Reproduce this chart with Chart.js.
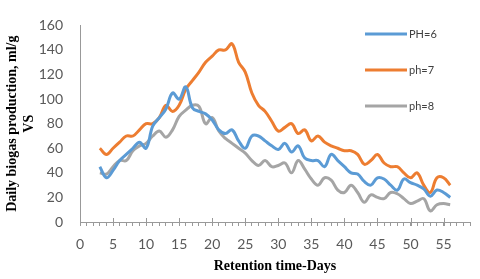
<!DOCTYPE html>
<html>
<head>
<meta charset="utf-8">
<script src="https://cdn.jsdelivr.net/npm/chart.js@4"></script>
<style>
  body { margin: 0; background: #fff; }
</style>
</head>
<body>
<canvas id="biogasChart" width="480" height="279"></canvas>
<script>
// retention days and daily biogas production (ml/g VS)
var days = [3, 4, 5, 6, 7, 8, 9, 10, 11, 12, 13, 14, 15, 16, 17, 18, 19, 20, 21, 22, 23, 24, 25, 26, 27, 28, 29,
            30, 31, 32, 33, 34, 35, 36, 37, 38, 39, 40, 41, 42, 43, 44, 45, 46, 47, 48, 49, 50, 51, 52, 53, 54, 55, 56];

var ph6 = [45, 36, 42, 50, 55, 60, 65, 60, 78, 85, 92, 105, 100, 110, 93, 90, 88, 83, 75, 72, 75, 66, 60, 70, 70, 66, 62,
           59, 64, 57, 62, 52, 50, 50, 45, 55, 50, 45, 40, 39, 33, 30, 36, 35, 30, 26, 35, 32, 30, 27, 21, 26, 24, 20];

var ph7 = [60, 55, 60, 65, 70, 70, 75, 80, 80, 85, 95, 90, 95, 108, 115, 122, 130, 135, 140, 140, 145, 130, 122, 105, 95, 90, 82,
           74, 77, 80, 72, 75, 66, 70, 65, 62, 60, 58, 58, 55, 47, 50, 55, 48, 45, 45, 40, 36, 40, 30, 24, 36, 36, 30];

var ph8 = [40, 39, 45, 50, 50, 58, 62, 64, 70, 74, 69, 75, 86, 91, 95, 94, 80, 85, 74, 68, 64, 60, 56, 50, 46, 50, 45,
           46, 48, 40, 50, 43, 35, 30, 36, 34, 26, 24, 30, 24, 16, 22, 20, 19, 24, 23, 19, 15, 17, 19, 9, 14, 15, 14];

var seriesLabels = ["PH=6", "ph=7", "ph=8"];
var seriesColors = ["#5B9BD5", "#ED7D31", "#A5A5A5"];

function toPoints(values) {
    return days.map(function (d, i) { return { x: d, y: values[i] }; });
}

function makeSet(idx, values) {
    return {
        label: seriesLabels[idx],
        data: toPoints(values),
        borderColor: seriesColors[idx],
        backgroundColor: seriesColors[idx],
        borderWidth: 3,
        pointRadius: 0,
        tension: 0.4,
        fill: false
    };
}

// legend inside the plot (top right) + longer major ticks on the x axis
var insideLegend = {
    id: 'insideLegend',
    afterDraw: function (chart) {
        var ctx = chart.ctx;
        var xs = chart.scales.x;
        ctx.save();

        ctx.strokeStyle = '#999';
        ctx.lineWidth = 1;
        xs.ticks.forEach(function (t) {
            if (t.value % 5 !== 0) return;
            var px = Math.round(xs.getPixelForValue(t.value)) + 0.5;
            ctx.beginPath();
            ctx.moveTo(px, xs.top - 4);
            ctx.lineTo(px, xs.top + 4);
            ctx.stroke();
        });

        ctx.font = '11px Lato';
        ctx.textBaseline = 'middle';
        ctx.textAlign = 'left';
        chart.data.datasets.forEach(function (ds, i) {
            var y = 34 + i * 36;
            ctx.strokeStyle = ds.borderColor;
            ctx.lineWidth = 3;
            ctx.beginPath();
            ctx.moveTo(365, y);
            ctx.lineTo(407, y);
            ctx.stroke();
            ctx.fillStyle = '#404040';
            ctx.fillText(ds.label, 409, y);
        });
        ctx.restore();
    }
};

var config = {
    type: 'line',
    data: {
        datasets: [makeSet(0, ph6), makeSet(1, ph7), makeSet(2, ph8)]
    },
    options: {
        responsive: false,
        animation: false,
        layout: { padding: { top: 13, right: 8, left: 0, bottom: 0 } },
        plugins: {
            legend: { display: false },
            tooltip: { enabled: false }
        },
        scales: {
            x: {
                type: 'linear',
                min: 0,
                max: 59,
                afterFit: function (s) { s.height = 57; },
                ticks: {
                    stepSize: 1,
                    autoSkip: false,
                    maxRotation: 0,
                    padding: 10,
                    color: '#595959',
                    font: { family: 'Lato', size: 14 },
                    callback: function (v) { return v % 5 === 0 ? v : ''; }
                },
                grid: {
                    drawOnChartArea: false,
                    tickLength: 4,
                    color: '#999'
                },
                border: { color: '#999', width: 1 },
                title: {
                    display: true,
                    text: 'Retention time-Days',
                    color: '#000',
                    font: { family: 'Liberation Serif', size: 14, weight: 'bold' },
                    padding: { top: 0, bottom: 4 }
                }
            },
            y: {
                min: 0,
                max: 160,
                afterFit: function (s) { s.width = 80; },
                ticks: {
                    stepSize: 20,
                    padding: 17,
                    color: '#595959',
                    font: { family: 'Lato', size: 14 }
                },
                grid: { display: false, drawTicks: false },
                border: { color: '#999', width: 1 },
                title: {
                    display: true,
                    text: ['Daily biogas production, ml/g', 'VS'],
                    color: '#000',
                    font: { family: 'Liberation Serif', size: 14, weight: 'bold' },
                    padding: { top: 4, bottom: 0 }
                }
            }
        }
    },
    plugins: [insideLegend]
};

var ctx = document.getElementById('biogasChart').getContext('2d');
var chart = new Chart(ctx, config);
</script>
</body>
</html>
